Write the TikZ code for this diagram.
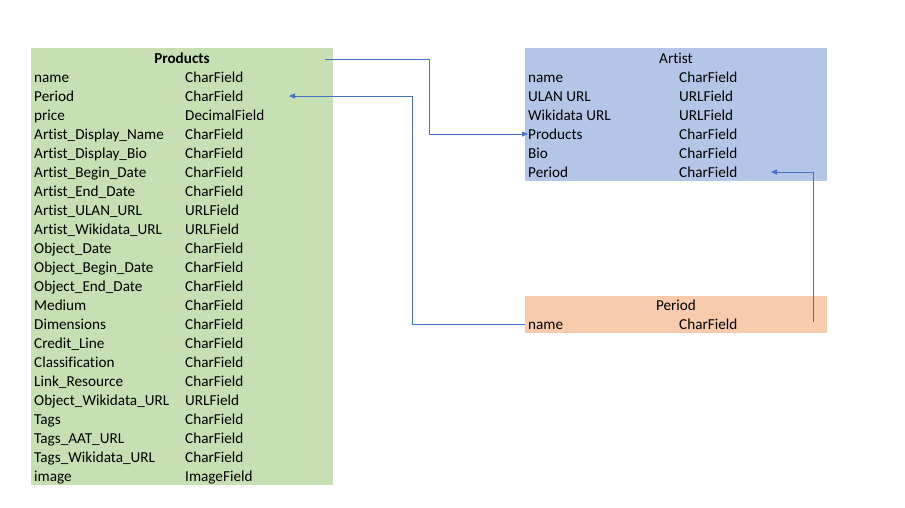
\documentclass[tikz,border=0pt]{standalone}
\usepackage{fontspec}
\setmainfont[Ligatures=NoCommon]{Carlito}
\usetikzlibrary{arrows.meta}
\definecolor{prodgreen}{HTML}{C6E0B4}
\definecolor{artblue}{HTML}{B4C6E7}
\definecolor{perorange}{HTML}{F8CBAD}
\definecolor{linkblue}{HTML}{4472C4}
\tikzset{
  tablebox/.style={draw=none, inner sep=0pt, anchor=north west},
  celltext/.style={anchor=base west, inner sep=0pt, font=\fontsize{15.2}{17}\selectfont},
  headtext/.style={anchor=base, inner sep=0pt, font=\fontsize{15.2}{17}\selectfont},
  link/.style={draw=linkblue, line width=0.9pt, -{Triangle[width=5pt,length=6pt]}},
}
\begin{document}
\begin{tikzpicture}[x=1pt,y=-1pt]
\useasboundingbox[fill=white] (0,0) rectangle (905,508);
% boxes
\node[tablebox, fill=prodgreen, minimum width=302pt, minimum height=437pt] (prodbox) at (31,48) {};
\node[tablebox, fill=artblue, minimum width=302pt, minimum height=133pt] (artbox) at (525,48) {};
\node[tablebox, fill=perorange, minimum width=302pt, minimum height=37pt] (perbox) at (525,296) {};
% Products
\node[headtext, font=\fontsize{15.2}{17}\selectfont\bfseries] (prodhead) at (182,63.5) {Products};
\foreach \n/\t [count=\i from 0] in {name/CharField, Period/CharField, price/DecimalField,
  Artist\_Display\_Name/CharField, Artist\_Display\_Bio/CharField, Artist\_Begin\_Date/CharField,
  Artist\_End\_Date/CharField, Artist\_ULAN\_URL/URLField, Artist\_Wikidata\_URL/URLField,
  Object\_Date/CharField, Object\_Begin\_Date/CharField, Object\_End\_Date/CharField,
  Medium/CharField, Dimensions/CharField, Credit\_Line/CharField, Classification/CharField,
  Link\_Resource/CharField, Object\_Wikidata\_URL/URLField, Tags/CharField,
  Tags\_AAT\_URL/CharField, Tags\_Wikidata\_URL/CharField, image/ImageField}{
  \node[celltext] (pn\i) at (34,82.5+19*\i) {\n};
  \node[celltext] (pt\i) at (185,82.5+19*\i) {\t};
}
% Artist
\node[headtext] (arthead) at (676,63.5) {Artist};
\foreach \n/\t [count=\i from 0] in {name/CharField, ULAN URL/URLField, Wikidata URL/URLField,
  Products/CharField, Bio/CharField, Period/CharField}{
  \node[celltext] (an\i) at (528,82.5+19*\i) {\n};
  \node[celltext] (at\i) at (679,82.5+19*\i) {\t};
}
% Period
\node[headtext] (perhead) at (676,310.5) {Period};
\node[celltext] (pername) at (528,329.5) {name};
\node[celltext] (pertype) at (679,329.5) {CharField};
% connector ends
\coordinate (c1s) at (325,59);
\coordinate (c2e) at (289,96);
\coordinate (c3s) at (813,322);
\coordinate (c3e) at (771,172);
\coordinate (a3w) at (528,134);
\coordinate (p1w) at (525,324);
% connectors
\draw[link] (c1s) -- (429,59) -- (429,134) -- (a3w);
\draw[link] (p1w) -- (412,324) -- (412,96) -- (c2e);
\draw[link] (c3s) -- (813,172) -- (c3e);
\end{tikzpicture}
\end{document}
